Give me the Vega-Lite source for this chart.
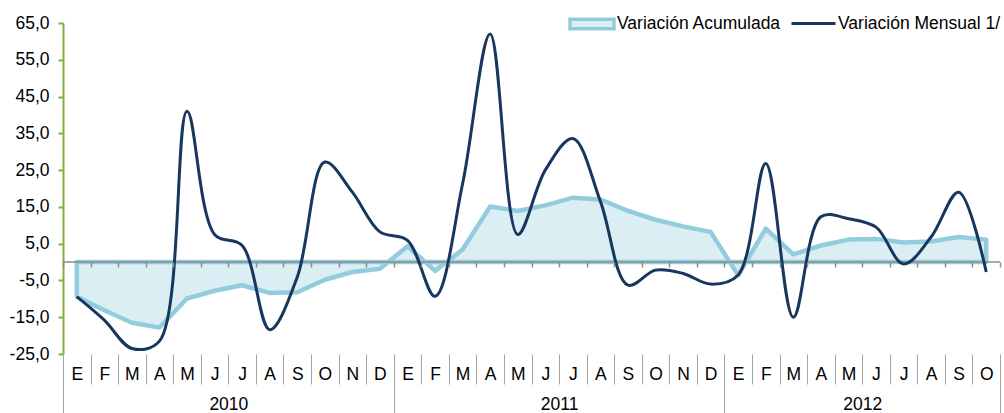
{
  "$schema": "https://vega.github.io/schema/vega-lite/v6.json",
  "width": 937,
  "height": 331,
  "autosize": "none",
  "padding": {"left": 63, "top": 23, "right": 4, "bottom": 59},
  "config": {
    "view": {"stroke": null},
    "font": "Liberation Sans",
    "axis": {"labelFont": "Liberation Sans", "labelFontSize": 17.5, "labelColor": "#000000", "grid": false, "title": null},
    "axisY": {"labelOverlap": false, "tickCount": 20},
    "legend": {"labelFont": "Liberation Sans", "labelFontSize": 17.5, "labelColor": "#000000", "labelLimit": 400}
  },
  "datasets": {
    "d": [
      {"n": 1, "anio": 2010, "mes": "E", "acum": -9.4, "mensual": -9.4},
      {"n": 2, "anio": 2010, "mes": "F", "acum": -13.1, "mensual": -15.8},
      {"n": 3, "anio": 2010, "mes": "M", "acum": -16.5, "mensual": -23.5},
      {"n": 4, "anio": 2010, "mes": "A", "acum": -17.8, "mensual": -21.5},
      {"n": 5, "anio": 2010, "mes": "M", "acum": -9.9, "mensual": 41.0},
      {"n": 6, "anio": 2010, "mes": "J", "acum": -7.8, "mensual": 7.5},
      {"n": 7, "anio": 2010, "mes": "J", "acum": -6.3, "mensual": 4.5},
      {"n": 8, "anio": 2010, "mes": "A", "acum": -8.4, "mensual": -18.4},
      {"n": 9, "anio": 2010, "mes": "S", "acum": -8.2, "mensual": -4.1},
      {"n": 10, "anio": 2010, "mes": "O", "acum": -4.8, "mensual": 27.2},
      {"n": 11, "anio": 2010, "mes": "N", "acum": -2.7, "mensual": 19.0},
      {"n": 12, "anio": 2010, "mes": "D", "acum": -1.8, "mensual": 8.2},
      {"n": 13, "anio": 2011, "mes": "E", "acum": 4.3, "mensual": 5.9},
      {"n": 14, "anio": 2011, "mes": "F", "acum": -2.4, "mensual": -9.3},
      {"n": 15, "anio": 2011, "mes": "M", "acum": 3.4, "mensual": 21.3},
      {"n": 16, "anio": 2011, "mes": "A", "acum": 15.1, "mensual": 62.0},
      {"n": 17, "anio": 2011, "mes": "M", "acum": 13.9, "mensual": 7.5},
      {"n": 18, "anio": 2011, "mes": "J", "acum": 15.4, "mensual": 25.0},
      {"n": 19, "anio": 2011, "mes": "J", "acum": 17.5, "mensual": 33.6},
      {"n": 20, "anio": 2011, "mes": "A", "acum": 17.0, "mensual": 16.5},
      {"n": 21, "anio": 2011, "mes": "S", "acum": 13.9, "mensual": -6.3},
      {"n": 22, "anio": 2011, "mes": "O", "acum": 11.5, "mensual": -2.2},
      {"n": 23, "anio": 2011, "mes": "N", "acum": 9.7, "mensual": -3.1},
      {"n": 24, "anio": 2011, "mes": "D", "acum": 8.2, "mensual": -6.0},
      {"n": 25, "anio": 2012, "mes": "E", "acum": -3.6, "mensual": -3.5},
      {"n": 26, "anio": 2012, "mes": "F", "acum": 9.1, "mensual": 26.8},
      {"n": 27, "anio": 2012, "mes": "M", "acum": 2.1, "mensual": -15.0},
      {"n": 28, "anio": 2012, "mes": "A", "acum": 4.5, "mensual": 12.3},
      {"n": 29, "anio": 2012, "mes": "M", "acum": 6.1, "mensual": 11.8},
      {"n": 30, "anio": 2012, "mes": "J", "acum": 6.3, "mensual": 9.5},
      {"n": 31, "anio": 2012, "mes": "J", "acum": 5.3, "mensual": -0.5},
      {"n": 32, "anio": 2012, "mes": "A", "acum": 5.6, "mensual": 6.8},
      {"n": 33, "anio": 2012, "mes": "S", "acum": 6.8, "mensual": 19.0},
      {"n": 34, "anio": 2012, "mes": "O", "acum": 6.1, "mensual": -2.7}
    ]
  },
  "data": {"name": "d"},
  "layer": [
    {
      "mark": {"type": "area", "stroke": "#93CDDD", "strokeWidth": 4.5, "strokeJoin": "round"},
      "encoding": {
        "x": {
          "field": "n", "type": "quantitative",
          "scale": {"domain": [0.5, 34.5], "nice": false, "zero": false},
          "axis": {
            "orient": "bottom", "offset": -92, "tickCount": 60,
            "values": [0.5, 1.5, 2.5, 3.5, 4.5, 5.5, 6.5, 7.5, 8.5, 9.5, 10.5, 11.5, 12.5, 13.5, 14.5, 15.5, 16.5, 17.5, 18.5, 19.5, 20.5, 21.5, 22.5, 23.5, 24.5, 25.5, 26.5, 27.5, 28.5, 29.5, 30.5, 31.5, 32.5, 33.5, 34.5],
            "domain": false, "ticks": true, "tickSize": 5, "tickColor": "#8C8C8C", "tickWidth": 1.5,
            "labels": false, "zindex": 1, "title": null
          }
        },
        "y": {
          "field": "acum", "type": "quantitative",
          "scale": {"domain": [-25, 65], "nice": false},
          "axis": {
            "orient": "left", "tickCount": 20,
            "values": [-25, -15, -5, 5, 15, 25, 35, 45, 55, 65],
            "domain": true, "domainColor": "#86AD45", "domainWidth": 2,
            "ticks": true, "tickColor": "#86AD45", "tickSize": 5, "tickWidth": 2,
            "labelPadding": 9, "labelOverlap": false, "labelFlush": false,
            "labelExpr": "replace(replace(format(datum.value, '.1f'), '.', ','), '\u2212', '-')",
            "title": null
          }
        },
        "fill": {
          "datum": "Variación Acumulada",
          "scale": {"range": ["#DBEEF4"]},
          "legend": {
            "orient": "none", "legendX": 505, "legendY": -23, "direction": "horizontal", "title": null,
            "symbolType": "M-1,-0.22H1V0.22H-1Z", "symbolSize": 1936,
            "symbolStrokeColor": "#93CDDD", "symbolStrokeWidth": 3.5, "labelOffset": 1, "labelLimit": 400
          }
        }
      }
    },
    {
      "data": {"values": [{}]},
      "mark": {"type": "rule", "color": "#8C8C8C", "strokeWidth": 1.5},
      "encoding": {"y": {"datum": 0}}
    },
    {
      "mark": {"type": "line", "interpolate": "catmull-rom", "strokeWidth": 3},
      "encoding": {
        "x": {
          "field": "n", "type": "quantitative",
          "axis": {
            "orient": "bottom", "tickCount": 60,
            "values": [0.5, 1.5, 2.5, 3.5, 4.5, 5.5, 6.5, 7.5, 8.5, 9.5, 10.5, 11.5, 12.5, 13.5, 14.5, 15.5, 16.5, 17.5, 18.5, 19.5, 20.5, 21.5, 22.5, 23.5, 24.5, 25.5, 26.5, 27.5, 28.5, 29.5, 30.5, 31.5, 32.5, 33.5, 34.5],
            "domain": false, "ticks": true, "tickSize": 30, "tickColor": "#A6A6A6", "tickWidth": 1,
            "labels": false, "title": null
          }
        },
        "y": {
          "field": "mensual", "type": "quantitative",
          "axis": {
            "orient": "left", "tickCount": 20,
            "values": [-25, -15, -5, 5, 15, 25, 35, 45, 55, 65],
            "domain": true, "domainColor": "#86AD45", "domainWidth": 2,
            "ticks": true, "tickColor": "#86AD45", "tickSize": 5, "tickWidth": 2,
            "labelPadding": 9, "labelOverlap": false, "labelFlush": false,
            "labelExpr": "replace(replace(format(datum.value, '.1f'), '.', ','), '\u2212', '-')",
            "title": null
          }
        },
        "stroke": {
          "datum": "Variación Mensual 1/",
          "scale": {"range": ["#17375E"]},
          "legend": {
            "orient": "none", "legendX": 727, "legendY": -23, "direction": "horizontal", "title": null,
            "symbolType": "stroke", "symbolSize": 1936, "symbolStrokeWidth": 3, "labelOffset": 1, "labelLimit": 400
          }
        }
      }
    },
    {
      "mark": {"type": "point", "opacity": 0},
      "encoding": {
        "x": {
          "field": "n", "type": "quantitative",
          "axis": {
            "orient": "bottom", "tickCount": 60,
            "values": [1, 2, 3, 4, 5, 6, 7, 8, 9, 10, 11, 12, 13, 14, 15, 16, 17, 18, 19, 20, 21, 22, 23, 24, 25, 26, 27, 28, 29, 30, 31, 32, 33, 34],
            "domain": false, "ticks": false, "labelPadding": 20.5, "labelBaseline": "middle", "labelAlign": "center",
            "labelExpr": "['E','F','M','A','M','J','J','A','S','O','N','D'][(datum.value - 1) % 12]",
            "labelOverlap": false, "labelFlush": false, "title": null
          }
        }
      }
    },
    {
      "mark": {"type": "point", "opacity": 0},
      "encoding": {
        "x": {
          "field": "n", "type": "quantitative",
          "axis": {
            "orient": "bottom", "values": [0.5, 12.5, 24.5, 34.5],
            "domain": false, "ticks": true, "tickSize": 59, "tickColor": "#A6A6A6", "tickWidth": 1,
            "labels": false, "title": null
          }
        }
      }
    },
    {
      "mark": {"type": "point", "opacity": 0},
      "encoding": {
        "x": {
          "field": "n", "type": "quantitative",
          "axis": {
            "orient": "bottom", "values": [6.5, 18.5, 29.5],
            "domain": false, "ticks": false, "labelPadding": 50, "labelBaseline": "middle", "labelAlign": "center",
            "labelExpr": "datum.value < 12 ? '2010' : (datum.value < 24 ? '2011' : '2012')",
            "labelOverlap": false, "labelFlush": false, "title": null
          }
        }
      }
    }
  ],
  "resolve": {"axis": {"x": "independent"}}
}
